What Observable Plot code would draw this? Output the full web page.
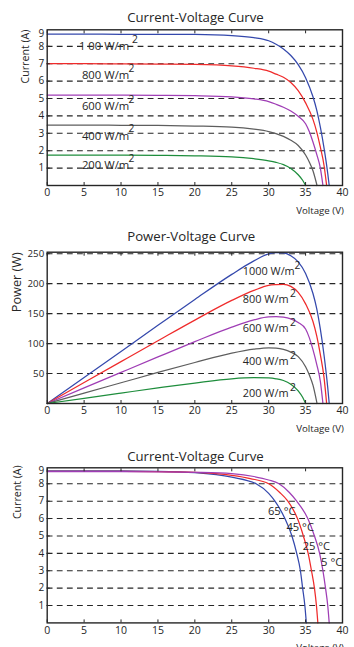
<!DOCTYPE html>
<html><head><meta charset="utf-8">
<script src="https://cdn.jsdelivr.net/npm/d3@7"></script>
<script src="https://cdn.jsdelivr.net/npm/@observablehq/plot@0.6"></script>
<style>
body{margin:0;background:#fff;}
#c{width:354px;}
#c svg{display:block;}
</style>
</head><body><div id="c"></div>
<script>
// ---------- tick labels ----------
const xTicks = [0, 5, 10, 15, 20, 25, 30, 35, 40];
const currentTicks = [1, 2, 3, 4, 5, 6, 7, 8];
const currentTopTick = [9];
const powerTicks = [50, 100, 150, 200, 250];

// ---------- irradiance series ----------
const irradiance = ["1000", "800", "600", "400", "200"];
const ivLabelText = ["1 00 W/m", "800 W/m", "600 W/m", "400 W/m", "200 W/m"];
const pvLabelText = ["1000 W/m", "800 W/m", "600 W/m", "400 W/m", "200 W/m"];

// current-voltage [V, A]
const iv1000 = [[0,8.70],[5,8.70],[10,8.69],[15,8.69],[20,8.68],[25,8.62],[28,8.5],[30,8.32],[31,8.12],[32,7.85],[33,7.47],[34,6.95],[35,6.2],[36,5.1],[36.5,4.35],[37,3.35],[37.5,2.15],[38,0.7],[38.2,0]];
const iv800  = [[0,7.0],[5,7.0],[10,6.99],[15,6.98],[20,6.96],[25,6.88],[28,6.74],[30,6.57],[31,6.4],[32,6.22],[33,5.92],[34,5.45],[35,4.75],[36,3.8],[36.5,3.1],[37,2.2],[37.5,1.15],[37.85,0]];
const iv600  = [[0,5.2],[5,5.2],[10,5.19],[15,5.18],[20,5.16],[25,5.1],[28,4.98],[30,4.82],[31,4.67],[32,4.5],[33,4.28],[34,3.98],[35,3.55],[35.5,3.1],[36,2.5],[36.5,1.8],[37,1.0],[37.35,0]];
const iv400  = [[0,3.47],[5,3.47],[10,3.46],[15,3.45],[20,3.42],[25,3.36],[28,3.24],[30,3.1],[31,2.98],[32,2.82],[33,2.6],[34,2.3],[35,1.75],[35.5,1.35],[36,0.85],[36.55,0]];
const iv200  = [[0,1.75],[5,1.75],[10,1.74],[15,1.73],[20,1.71],[25,1.65],[28,1.54],[30,1.42],[31,1.33],[32,1.2],[33,0.98],[34,0.62],[34.6,0.3],[35,0]];

// power-voltage [V, W]
const pv1000 = [[0,0],[5,43.5],[10,86.9],[15,130.4],[20,173.6],[25,215.5],[28,238],[30,249.6],[31,251.7],[32,251.2],[33,246.5],[34,236.3],[35,217],[36,183.6],[36.5,158.8],[37,124],[37.5,80.6],[38,26.6],[38.2,0]];
const pv800  = [[0,0],[5,35],[10,69.9],[15,104.7],[20,139.2],[25,172],[28,188.7],[30,197.1],[31,198.4],[32,199],[33,195.4],[34,185.3],[35,166.3],[36,136.8],[36.5,113.2],[37,81.4],[37.5,43.1],[37.85,0]];
const pv600  = [[0,0],[5,26],[10,51.9],[15,77.7],[20,103.2],[25,127.5],[28,139.4],[30,144.6],[31,144.8],[32,144],[33,141.2],[34,135.3],[35,124.3],[35.5,110],[36,90],[36.5,65.7],[37,37],[37.35,0]];
const pv400  = [[0,0],[5,17.4],[10,34.6],[15,51.8],[20,68.4],[25,84],[28,90.7],[30,93],[31,92.4],[32,90.2],[33,85.8],[34,78.2],[35,61.3],[35.5,47.9],[36,30.6],[36.55,0]];
const pv200  = [[0,0],[5,8.75],[10,17.4],[15,26],[20,34.2],[25,41.3],[28,43.1],[30,42.6],[31,41.2],[32,38.4],[33,32.3],[34,21.1],[34.6,10.4],[35,0]];

// ---------- temperature series ----------
const temperature = ["65", "45", "25"];
const tempLabelText = ["65 °C", "45 °C", "25 °C", "5 °C"];
const ivT65 = [[0,8.75],[10,8.74],[15,8.72],[20,8.64],[25,8.38],[28.3,8.0],[30,7.45],[30.85,7.0],[32.2,6.0],[33.15,5.0],[33.8,4.0],[34.3,3.0],[34.6,2.0],[34.9,1.0],[35.1,0]];
const ivT45 = [[0,8.72],[10,8.71],[15,8.7],[20,8.65],[25,8.48],[27.5,8.3],[30,8.0],[31.5,7.5],[32.6,7.0],[33.9,6.0],[34.7,5.0],[35.35,4.0],[35.8,3.0],[36.2,2.0],[36.47,1.0],[36.66,0]];
const ivT25 = [[0,8.7],[10,8.7],[15,8.69],[20,8.66],[25,8.58],[28,8.42],[30,8.22],[31.4,8.0],[32.8,7.5],[33.8,7.0],[35.3,6.0],[36.2,5.0],[36.9,4.0],[37.35,3.0],[37.7,2.0],[38.0,1.0],[38.2,0]];

// ---------- annotation anchors (data units) ----------
const ivLabelV = [4.3, 4.7, 4.7, 4.7, 4.7];
const ivLabelI = [8.0, 6.33, 4.55, 2.84, 1.16];
const ivSupV   = [11.5, 11.0, 11.0, 11.0, 11.0];
const pvLabelV = [26.5, 26.5, 26.5, 26.5, 26.5];
const pvLabelP = [220, 174, 125, 70.5, 16.5];
const pvSupV   = [33.5, 32.9, 32.9, 32.9, 32.9];
const tLabelV  = [29.9, 32.4, 34.6, 37.1];
const tLabelI  = [6.43, 5.47, 4.4, 3.49];

// ---------- build tables ----------
const toRows = (names, arrays, key) => names.flatMap((s, k) => arrays[k].map(([v, y]) => ({s, V: v, [key]: y})));
const ivRows = toRows(irradiance, [iv1000, iv800, iv600, iv400, iv200], "I");
const pvRows = toRows(irradiance, [pv1000, pv800, pv600, pv400, pv200], "P");
const tRows  = toRows(temperature, [ivT65, ivT45, ivT25], "I");
const ivLabels = ivLabelText.map((t, k) => ({t, V: ivLabelV[k], I: ivLabelI[k], sV: ivSupV[k]}));
const pvLabels = pvLabelText.map((t, k) => ({t, V: pvLabelV[k], P: pvLabelP[k], sV: pvSupV[k]}));
const tLabels  = tempLabelText.map((t, k) => ({t, V: tLabelV[k], I: tLabelI[k]}));

const irrColors = ["#3448ac", "#ef2b2b", "#9f3db5", "#5e5e5e", "#1e8d3c"];
const tempColors = ["#3448ac", "#ef2b2b", "#9f3db5"];
const FONT = "'Open Sans', sans-serif";
const INK = "#262626";

const common = {
  width: 354, marginLeft: 46.7, marginRight: 12,
  style: {fontFamily: FONT, color: INK, background: "white", overflow: "visible"}
};
const xScale = {domain: [0, 40]};
const dash = {stroke: INK, strokeWidth: 1.1, strokeDasharray: "5.8,4.3"};
const frameStyle = {stroke: INK, strokeWidth: 1.4};

function xAxes() {
  return [
    Plot.axisX(xTicks, {tickSize: 0, tickPadding: 3.5, fontSize: 10.5, label: null}),
    Plot.axisX(xTicks, {tickSize: -3, text: null, label: null}),
    Plot.axisX(xTicks, {anchor: "top", tickSize: -3, text: null, label: null}),
    Plot.text(["Voltage (V)"], {frameAnchor: "bottom-right", textAnchor: "end", lineAnchor: "middle", dx: 1.3, dy: 25, fontSize: 9.7})
  ];
}

// ---------- panel 1 ----------
const p1 = Plot.plot({
  ...common, height: 220, marginTop: 29.3, marginBottom: 35,
  x: xScale,
  y: {domain: [0, 8.95]},
  color: {domain: irradiance, range: irrColors},
  marks: [
    Plot.ruleY(currentTicks, dash),
    Plot.line(ivRows, {x: "V", y: "I", stroke: "s", curve: "monotone-x", strokeWidth: 1.25}),
    Plot.text(ivLabels, {x: "V", y: "I", text: "t", textAnchor: "start", lineAnchor: "middle", fontSize: 11.3, fill: INK}),
    Plot.text(ivLabels, {x: "sV", y: "I", text: () => "2", textAnchor: "start", lineAnchor: "middle", dy: -7, fontSize: 10.3, fill: INK}),
    Plot.frame(frameStyle),
    ...xAxes(),
    Plot.axisY(currentTicks, {tickSize: 0, tickPadding: 3, fontSize: 10, label: null}),
    Plot.axisY(currentTopTick, {tickSize: 0, tickPadding: 3, fontSize: 10, dy: 4.8, label: null}),
    Plot.axisY(currentTicks, {tickSize: -3, text: null, label: null}),
    Plot.text(["Current-Voltage Curve"], {frameAnchor: "top", lineAnchor: "middle", dx: 0.6, dy: -12, fontSize: 13.2}),
    Plot.text(["Current (A)"], {frameAnchor: "top-left", rotate: -90, textAnchor: "middle", lineAnchor: "middle", dx: -21.7, dy: 26.7, fontSize: 10.6})
  ]
});

// ---------- panel 2 ----------
const p2 = Plot.plot({
  ...common, height: 220, marginTop: 31.7, marginBottom: 37,
  x: xScale,
  y: {domain: [0, 252.5]},
  color: {domain: irradiance, range: irrColors},
  marks: [
    Plot.ruleY(powerTicks, dash),
    Plot.line(pvRows, {x: "V", y: "P", stroke: "s", curve: "monotone-x", strokeWidth: 1.25}),
    Plot.text(pvLabels, {x: "V", y: "P", text: "t", textAnchor: "start", lineAnchor: "middle", fontSize: 10.9, fill: INK}),
    Plot.text(pvLabels, {x: "sV", y: "P", text: () => "2", textAnchor: "start", lineAnchor: "middle", dy: -6, fontSize: 10.3, fill: INK}),
    Plot.frame(frameStyle),
    ...xAxes(),
    Plot.axisY(powerTicks, {tickSize: 0, tickPadding: 3, fontSize: 9.7, label: null}),
    Plot.axisY(powerTicks, {tickSize: -3, text: null, label: null}),
    Plot.text(["Power-Voltage Curve"], {frameAnchor: "top", lineAnchor: "middle", dx: -3.6, dy: -15, fontSize: 13.2}),
    Plot.text(["Power (W)"], {frameAnchor: "top-left", rotate: -90, textAnchor: "middle", lineAnchor: "middle", dx: -30, dy: 30, fontSize: 12.7})
  ]
});

// ---------- panel 3 ----------
const p3 = Plot.plot({
  ...common, height: 207, marginTop: 27.3, marginBottom: 24.6,
  x: xScale,
  y: {domain: [0, 8.92]},
  color: {domain: temperature, range: tempColors},
  marks: [
    Plot.ruleY(currentTicks, dash),
    Plot.line(tRows, {x: "V", y: "I", stroke: "s", curve: "monotone-x", strokeWidth: 1.25}),
    Plot.text(tLabels, {x: "V", y: "I", text: "t", textAnchor: "start", lineAnchor: "middle", fontSize: 11.2, fill: INK}),
    Plot.frame(frameStyle),
    ...xAxes(),
    Plot.axisY(currentTicks, {tickSize: 0, tickPadding: 3, fontSize: 10, label: null}),
    Plot.axisY(currentTopTick, {tickSize: 0, tickPadding: 3, fontSize: 10, dy: 4.6, label: null}),
    Plot.axisY(currentTicks, {tickSize: -3, text: null, label: null}),
    Plot.text(["Current-Voltage Curve"], {frameAnchor: "top", lineAnchor: "middle", dx: 0.6, dy: -10.6, fontSize: 13.2}),
    Plot.text(["Current (A)"], {frameAnchor: "top-left", rotate: -90, textAnchor: "middle", lineAnchor: "middle", dx: -29.4, dy: 24.4, fontSize: 10.6})
  ]
});

const c = document.getElementById("c");
c.append(p1, p2, p3);
</script>
</body></html>
